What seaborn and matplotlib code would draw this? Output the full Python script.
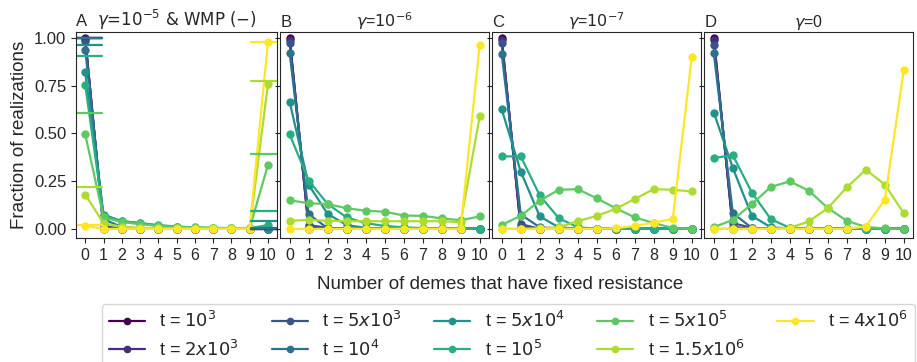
import numpy as np
import pandas as pd
import seaborn as sns
import matplotlib
matplotlib.use('Agg')
import matplotlib.pyplot as plt
from matplotlib.lines import Line2D

# number of demes with fixed resistance
demes = list(range(11))

# time points (legend labels)
times = ['t = $10^3$', 't = $2x10^3$', 't = $5x10^3$', 't = $10^4$', 't = $5x10^4$',
         't = $10^5$', 't = $5x10^5$', 't = $1.5x10^6$', 't = $4x10^6$']

# panel A: gamma = 1e-5
gamma_1e5 = [
    [1.0, 0.0, 0.0, 0.0, 0.0, 0.0, 0.0, 0.0, 0.0, 0.0, 0.0],
    [0.995, 0.005, 0.0, 0.0, 0.0, 0.0, 0.0, 0.0, 0.0, 0.0, 0.0],
    [0.985, 0.015, 0.0, 0.0, 0.0, 0.0, 0.0, 0.0, 0.0, 0.0, 0.0],
    [0.94, 0.05, 0.01, 0.0, 0.0, 0.0, 0.0, 0.0, 0.0, 0.0, 0.0],
    [0.82, 0.075, 0.04, 0.03, 0.015, 0.01, 0.005, 0.003, 0.002, 0.002, 0.0],
    [0.755, 0.07, 0.04, 0.03, 0.02, 0.012, 0.008, 0.005, 0.004, 0.003, 0.02],
    [0.495, 0.06, 0.035, 0.025, 0.015, 0.01, 0.007, 0.005, 0.003, 0.003, 0.335],
    [0.18, 0.03, 0.01, 0.005, 0.003, 0.002, 0.002, 0.002, 0.002, 0.002, 0.76],
    [0.015, 0.0, 0.0, 0.0, 0.0, 0.0, 0.0, 0.0, 0.0, 0.0, 0.98],
]
# WMP (-) predictions for 0 and 10 demes
wmp_zero = [1.0, 1.0, 1.0, 1.0, 0.963, 0.907, 0.61, 0.22, 0.02]
wmp_all = [0.0, 0.0, 0.0, 0.004, 0.042, 0.094, 0.39, 0.776, 0.98]

# panel B: gamma = 1e-6
gamma_1e6 = [
    [1.0, 0.0, 0.0, 0.0, 0.0, 0.0, 0.0, 0.0, 0.0, 0.0, 0.0],
    [0.99, 0.01, 0.0, 0.0, 0.0, 0.0, 0.0, 0.0, 0.0, 0.0, 0.0],
    [0.975, 0.02, 0.005, 0.0, 0.0, 0.0, 0.0, 0.0, 0.0, 0.0, 0.0],
    [0.92, 0.077, 0.003, 0.0, 0.0, 0.0, 0.0, 0.0, 0.0, 0.0, 0.0],
    [0.665, 0.231, 0.078, 0.02, 0.005, 0.001, 0.0, 0.0, 0.0, 0.0, 0.0],
    [0.495, 0.253, 0.13, 0.06, 0.03, 0.015, 0.008, 0.004, 0.002, 0.001, 0.0],
    [0.15, 0.134, 0.13, 0.108, 0.095, 0.09, 0.07, 0.068, 0.055, 0.045, 0.065],
    [0.042, 0.047, 0.042, 0.04, 0.04, 0.04, 0.04, 0.04, 0.04, 0.035, 0.59],
    [0.0, 0.0, 0.0, 0.0, 0.0, 0.0, 0.0, 0.0, 0.0, 0.0, 0.965],
]

# panel C: gamma = 1e-7
gamma_1e7 = [
    [1.0, 0.0, 0.0, 0.0, 0.0, 0.0, 0.0, 0.0, 0.0, 0.0, 0.0],
    [0.99, 0.01, 0.0, 0.0, 0.0, 0.0, 0.0, 0.0, 0.0, 0.0, 0.0],
    [0.975, 0.025, 0.0, 0.0, 0.0, 0.0, 0.0, 0.0, 0.0, 0.0, 0.0],
    [0.915, 0.075, 0.008, 0.002, 0.0, 0.0, 0.0, 0.0, 0.0, 0.0, 0.0],
    [0.626, 0.30, 0.065, 0.008, 0.001, 0.0, 0.0, 0.0, 0.0, 0.0, 0.0],
    [0.38, 0.38, 0.175, 0.056, 0.008, 0.001, 0.0, 0.0, 0.0, 0.0, 0.0],
    [0.021, 0.068, 0.148, 0.205, 0.208, 0.16, 0.108, 0.06, 0.03, 0.005, 0.0],
    [0.0, 0.0, 0.002, 0.008, 0.04, 0.068, 0.105, 0.157, 0.208, 0.205, 0.196],
    [0.0, 0.0, 0.0, 0.0, 0.0, 0.0, 0.003, 0.015, 0.033, 0.052, 0.90],
]

# panel D: gamma = 0
gamma_0 = [
    [1.0, 0.0, 0.0, 0.0, 0.0, 0.0, 0.0, 0.0, 0.0, 0.0, 0.0],
    [0.99, 0.01, 0.0, 0.0, 0.0, 0.0, 0.0, 0.0, 0.0, 0.0, 0.0],
    [0.965, 0.03, 0.005, 0.0, 0.0, 0.0, 0.0, 0.0, 0.0, 0.0, 0.0],
    [0.92, 0.082, 0.005, 0.0, 0.0, 0.0, 0.0, 0.0, 0.0, 0.0, 0.0],
    [0.609, 0.319, 0.068, 0.008, 0.002, 0.0, 0.0, 0.0, 0.0, 0.0, 0.0],
    [0.372, 0.386, 0.19, 0.051, 0.005, 0.001, 0.0, 0.0, 0.0, 0.0, 0.0],
    [0.009, 0.047, 0.13, 0.22, 0.249, 0.2, 0.109, 0.042, 0.01, 0.002, 0.0],
    [0.0, 0.0, 0.0, 0.0, 0.005, 0.039, 0.109, 0.218, 0.31, 0.232, 0.082],
    [0.0, 0.0, 0.0, 0.0, 0.0, 0.0, 0.0, 0.0, 0.012, 0.153, 0.833],
]

panels = [gamma_1e5, gamma_1e6, gamma_1e7, gamma_0]
letters = ['A', 'B', 'C', 'D']
titles = [r'$\gamma$=$10^{-5}$ & WMP (−)', r'$\gamma$=$10^{-6}$',
          r'$\gamma$=$10^{-7}$', r'$\gamma$=0']

sns.set_style('ticks')
plt.rcParams['font.family'] = ['Liberation Sans', 'DejaVu Sans']

colors = [matplotlib.colors.to_hex(c) for c in plt.cm.viridis(np.linspace(0, 1, len(times)))]

fig, axes = plt.subplots(1, 4, figsize=(9.17, 3.62), dpi=100, sharey=True,
                         gridspec_kw=dict(width_ratios=[201, 209, 209, 209], wspace=0.015,
                                          left=0.083, right=0.996, top=0.911, bottom=0.342))

for i, (ax, vals, letter, title) in enumerate(zip(axes, panels, letters, titles)):
    rows = []
    for t, series in zip(times, vals):
        for d, v in zip(demes, series):
            rows.append({'demes': d, 'frac': v, 't': t})
    df = pd.DataFrame(rows)
    sns.lineplot(data=df, x='demes', y='frac', hue='t', hue_order=times, palette=colors,
                 marker='o', markersize=6, markeredgewidth=0, linewidth=1.6,
                 errorbar=None, legend=False, ax=ax)
    ax.set_title(letter, loc='left', fontsize=12, pad=4)
    if i == 0:
        ax.set_title(title, fontsize=12, pad=4, family='DejaVu Sans')
    else:
        ax.set_title(title, fontsize=11.5, pad=4)
    ax.set_xticks(demes)
    ax.set_xlim(-0.5, 10.5)
    ax.set_xlabel('')
    ax.set_ylabel('')
    ax.tick_params(axis='x', labelsize=11.5)
    ax.tick_params(axis='y', labelsize=12)
    for s in ax.spines.values():
        s.set_visible(True)

# WMP (-) reference levels in panel A
for c, lo, hi in zip(colors, wmp_zero, wmp_all):
    axes[0].axhline(lo, xmin=0, xmax=0.13, color=c, lw=1.6)
    axes[0].axhline(hi, xmin=0.87, xmax=1, color=c, lw=1.6)

axes[0].set_ylim(-0.049, 1.031)
axes[0].set_yticks([0, 0.25, 0.5, 0.75, 1.0])
axes[0].set_ylabel('Fraction of realizations', fontsize=13.5)

fig.text(0.545, 0.215, 'Number of demes that have fixed resistance', fontsize=13.5,
         ha='center', va='center')

handles = [Line2D([], [], color=c, marker='o', markersize=4.5, lw=1.6) for c in colors]
fig.legend(handles, times, ncol=5, loc='upper left', bbox_to_anchor=(0.101, 0.185),
           fontsize=13, frameon=True, columnspacing=1.8, handlelength=2.0,
           labelspacing=0.45)

plt.savefig('out.png', dpi=100)
